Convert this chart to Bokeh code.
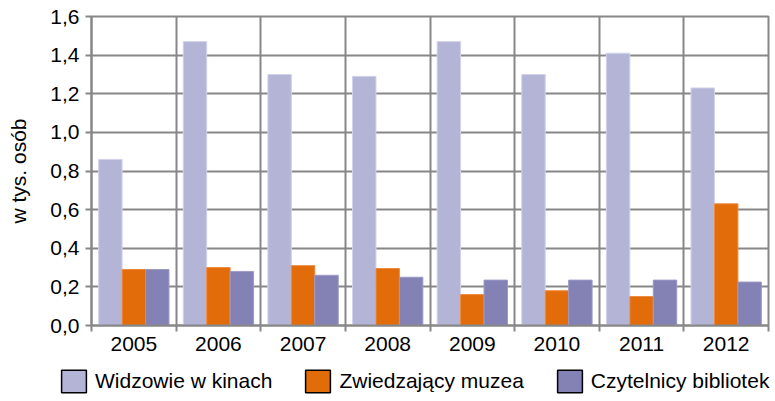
from bokeh.plotting import figure
from bokeh.layouts import column
from bokeh.models import (ColumnDataSource, Range1d, FixedTicker, CustomJSTickFormatter,
                          Legend, LegendItem)
from bokeh.transform import dodge
from bokeh.embed import file_html
from bokeh.resources import INLINE

# ---- data ----
years = ["2005", "2006", "2007", "2008", "2009", "2010", "2011", "2012"]
widzowie = [0.86, 1.47, 1.30, 1.29, 1.47, 1.30, 1.41, 1.23]
muzea = [0.29, 0.30, 0.31, 0.295, 0.16, 0.18, 0.15, 0.63]
biblioteki = [0.29, 0.28, 0.26, 0.25, 0.235, 0.235, 0.235, 0.225]
series_names = ["Widzowie w kinach", "Zwiedzający muzea", "Czytelnicy bibliotek"]
y_ticks = [0.0, 0.2, 0.4, 0.6, 0.8, 1.0, 1.2, 1.4, 1.6]
y_title = "w tys. osób"

colors = ["#B4B4D7", "#E36C0A", "#8481B5"]
edge_colors = ["#D2D2EA", "#EE8A3E", "#9C99C6"]
GRID = "#878787"
FONT = "Liberation Sans"
FS = "21px"

centers = [i + 0.5 for i in range(len(years))]
bounds = list(range(len(years) + 1))
series_cols = ["w", "m", "b"]

source = ColumnDataSource(dict(x=centers, year=years, w=widzowie, m=muzea, b=biblioteki))

p = figure(width=770, height=360, output_backend="svg", toolbar_location=None,
           x_range=Range1d(0, len(years)), y_range=Range1d(0, 1.6),
           min_border_left=91, min_border_right=2, min_border_top=16, min_border_bottom=35)
p.frame_align = False

bw = 0.277
offsets = [-bw, 0, bw]
for col, off, c, ec in zip(series_cols, offsets, colors, edge_colors):
    p.vbar(x=dodge("x", off), top=col, width=bw, bottom=0, source=source,
           fill_color=c, line_color=ec, line_width=1)

# grid
p.ygrid.ticker = FixedTicker(ticks=y_ticks)
p.ygrid.grid_line_color = GRID
p.ygrid.grid_line_width = 2
p.xgrid.ticker = FixedTicker(ticks=bounds)
p.xgrid.grid_line_color = GRID
p.xgrid.grid_line_width = 2

p.outline_line_color = GRID
p.outline_line_width = 2

# y axis
ya = p.yaxis[0]
ya.ticker = FixedTicker(ticks=y_ticks)
ya.formatter = CustomJSTickFormatter(code="return tick.toFixed(1).replace('.', ',');")
ya.axis_label = y_title
ya.axis_label_text_font = FONT
ya.axis_label_text_font_size = FS
ya.axis_label_text_font_style = "normal"
ya.axis_label_text_color = "black"
ya.axis_label_standoff = 17
ya.major_label_text_font = FONT
ya.major_label_text_font_size = FS
ya.major_label_text_color = "black"
ya.major_label_standoff = 6
ya.axis_line_color = GRID
ya.axis_line_width = 2
ya.major_tick_line_color = GRID
ya.major_tick_line_width = 2
ya.major_tick_out = 6
ya.major_tick_in = 0
ya.minor_tick_line_color = None

# x axis
xa = p.xaxis[0]
xa.ticker = FixedTicker(ticks=centers, minor_ticks=bounds)
xa.formatter = CustomJSTickFormatter(args=dict(years=years),
                                     code="return years[Math.floor(tick)];")
xa.major_label_text_font = FONT
xa.major_label_text_font_size = FS
xa.major_label_text_color = "black"
xa.major_label_standoff = 5
xa.major_tick_line_color = None
xa.major_tick_out = 6
xa.minor_tick_line_color = GRID
xa.minor_tick_line_width = 2
xa.minor_tick_out = 6
xa.minor_tick_in = 0
xa.axis_line_color = GRID
xa.axis_line_width = 2

# ---- legend strip (separate figure without axes) ----
lg = figure(width=770, height=35, output_backend="svg", toolbar_location=None,
            x_range=Range1d(0, len(years)), y_range=Range1d(0, 1.6),
            x_axis_location=None, y_axis_location=None,
            min_border_left=0, min_border_right=0, min_border_top=0, min_border_bottom=0)
lg.frame_align = False
lg.xgrid.visible = False
lg.ygrid.visible = False
lg.outline_line_color = None

legend_items = []
for col, off, c, name in zip(series_cols, offsets, colors, series_names):
    # hidden proxy bars (same data) that give the legend its black-outlined swatches
    r = lg.vbar(x=dodge("x", off), top=col, width=bw, bottom=0, source=source,
                fill_color=c, line_color="black", line_width=1.5, visible=False)
    legend_items.append(LegendItem(label=name, renderers=[r]))

legend = Legend(items=legend_items, orientation="horizontal", location=(58, 0),
                margin=0, padding=0, spacing=30, label_standoff=6,
                glyph_width=31, glyph_height=28, label_height=28,
                label_text_font=FONT, label_text_font_size=FS, label_text_color="black",
                border_line_color=None, background_fill_alpha=0,
                inactive_fill_alpha=0, click_policy="none")
lg.add_layout(legend, "center")

layout = column(p, lg, spacing=0)
open("out.html", "w").write(file_html(layout, INLINE))
